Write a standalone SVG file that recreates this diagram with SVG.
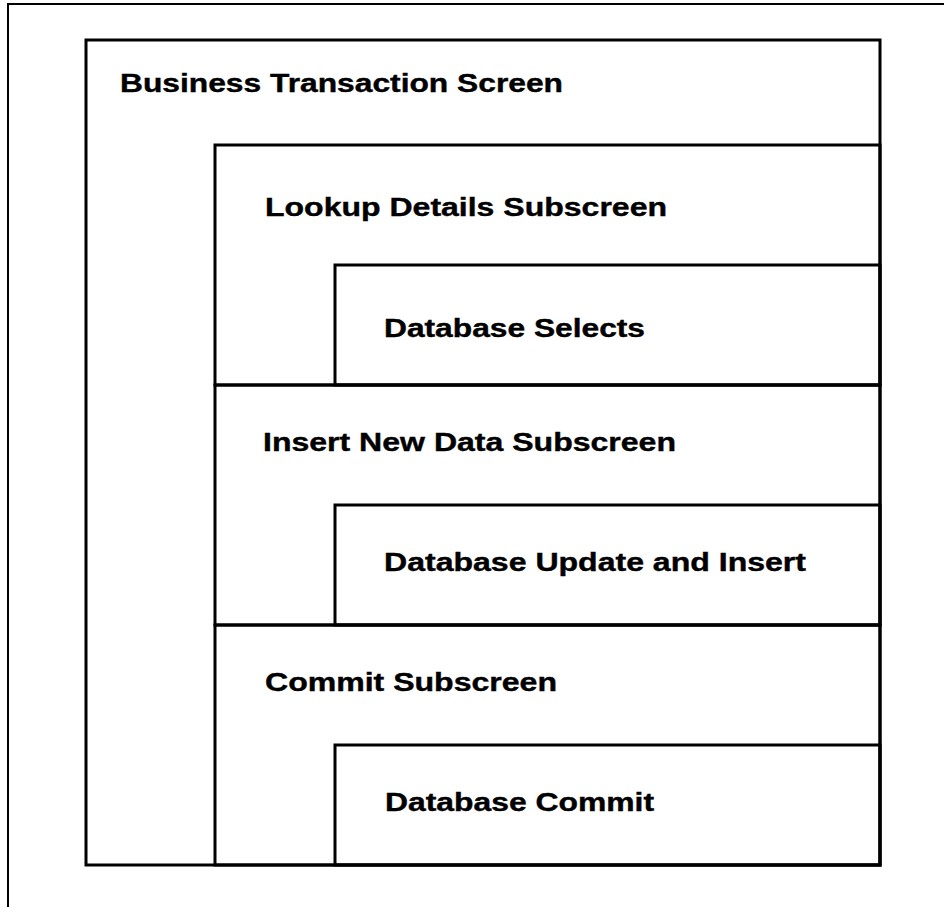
<svg xmlns="http://www.w3.org/2000/svg" width="944" height="907" viewBox="0 0 944 907">
  <style>
    .frame { fill: none; stroke: #000; stroke-width: 2; }
    .box { fill: none; stroke: #000; stroke-width: 3; }
    .lbl { font-family: "Liberation Sans", Arial, Helvetica, sans-serif; font-weight: bold; font-size: 25.5px; fill: #000; stroke: #000; stroke-width: 0.4; }
  </style>
  <rect width="944" height="907" fill="#fff"/>
  <!-- page frame -->
  <path class="frame" d="M8,907 V4 H944"/>

  <g id="business-transaction-screen">
    <rect class="box" x="86" y="40" width="794" height="825"/>
    <text class="lbl" x="120" y="92" textLength="443" lengthAdjust="spacingAndGlyphs">Business Transaction Screen</text>
  </g>

  <g id="lookup-details-subscreen">
    <rect class="box" x="215" y="145" width="665" height="240"/>
    <text class="lbl" x="265" y="216" textLength="402" lengthAdjust="spacingAndGlyphs">Lookup Details Subscreen</text>
  </g>
  <g id="database-selects">
    <rect class="box" x="335" y="265" width="545" height="120"/>
    <text class="lbl" x="384" y="337" textLength="261" lengthAdjust="spacingAndGlyphs">Database Selects</text>
  </g>

  <g id="insert-new-data-subscreen">
    <rect class="box" x="215" y="385" width="665" height="240"/>
    <text class="lbl" x="263" y="451" textLength="413" lengthAdjust="spacingAndGlyphs">Insert New Data Subscreen</text>
  </g>
  <g id="database-update-and-insert">
    <rect class="box" x="335" y="505" width="545" height="120"/>
    <text class="lbl" x="384" y="571" textLength="422" lengthAdjust="spacingAndGlyphs">Database Update and Insert</text>
  </g>

  <g id="commit-subscreen">
    <rect class="box" x="215" y="625" width="665" height="240"/>
    <text class="lbl" x="265" y="691" textLength="292" lengthAdjust="spacingAndGlyphs">Commit Subscreen</text>
  </g>
  <g id="database-commit">
    <rect class="box" x="335" y="745" width="545" height="120"/>
    <text class="lbl" x="385" y="811" textLength="269" lengthAdjust="spacingAndGlyphs">Database Commit</text>
  </g>

  <g id="connectors"></g>
</svg>
